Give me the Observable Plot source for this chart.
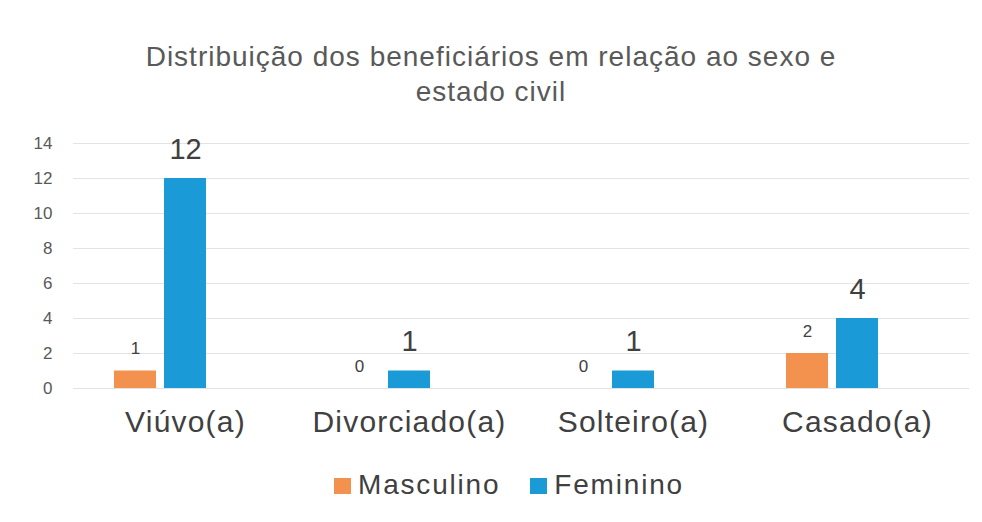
<!DOCTYPE html>
<html>
<head>
<meta charset="utf-8">
<script src="https://cdn.jsdelivr.net/npm/d3@7"></script>
<script src="https://cdn.jsdelivr.net/npm/@observablehq/plot@0.6"></script>
<style>
  html, body { margin: 0; padding: 0; background: #fff; }
  body { width: 982px; height: 522px; overflow: hidden; font-family: "Liberation Sans", Arial, sans-serif; }
  #title { text-align: center; color: #595959; font-size: 28px; letter-spacing: 1px; line-height: 35px; padding-top: 39px; height: 73px; box-sizing: content-box; }
  #legend { display: flex; justify-content: center; align-items: center; gap: 30px; color: #404040; font-size: 28px; letter-spacing: 1.8px; margin-top: 26px; padding-left: 36px; }
  .sw { display: inline-block; width: 17px; height: 16px; margin-right: 7px; vertical-align: middle; position: relative; top: -1px; }
  svg [aria-label="fx-axis tick label"] text { letter-spacing: 1.2px; }
</style>
</head>
<body>
<div id="title">Distribuição dos beneficiários em relação ao sexo e<br>estado civil</div>
<div id="chart"></div>
<div id="legend"></div>
<script>
const categories = ["Viúvo(a)", "Divorciado(a)", "Solteiro(a)", "Casado(a)"];
const seriesNames = ["Masculino", "Feminino"];
const masculino = [1, 0, 0, 2];
const feminino = [12, 1, 1, 4];
const yTicks = [0, 2, 4, 6, 8, 10, 12, 14];
const colors = ["#F3924F", "#1A9AD6"];

const data = [];
categories.forEach((c, i) => {
  data.push({cat: c, series: "Masculino", value: masculino[i]});
  data.push({cat: c, series: "Feminino", value: feminino[i]});
});
const masc = data.filter(d => d.series === "Masculino");
const fem = data.filter(d => d.series === "Feminino");

const chart = Plot.plot({
  width: 982,
  height: 331,
  marginTop: 31,
  marginBottom: 55,
  marginLeft: 72,
  marginRight: 12,
  style: {fontFamily: "Liberation Sans, Arial, sans-serif", background: "#fff"},
  fx: {domain: categories, padding: 0, label: null},
  x: {domain: ["Masculino", "Feminino", "_"], paddingInner: 0.17, paddingOuter: 0.79, axis: null},
  y: {domain: [0, 14], label: null},
  color: {domain: seriesNames, range: colors},
  marks: [
    Plot.gridY(yTicks, {stroke: "#e3e3e3", strokeOpacity: 1, strokeWidth: 1}),
    Plot.axisY(yTicks, {tickSize: 0, tickPadding: 21, fontSize: 17, fill: "#595959", label: null}),
    Plot.axisFx({anchor: "bottom", tickSize: 0, tickPadding: 22, fontSize: 30, fill: "#404040", label: null}),
    Plot.barY(data, {fx: "cat", x: "series", y: "value", fill: "series"}),
    Plot.text(masc, {fx: "cat", x: "series", y: "value", text: d => String(d.value), dy: -22, fontSize: 17, fill: "#404040"}),
    Plot.text(fem, {fx: "cat", x: "series", y: "value", text: d => String(d.value), dy: -29, fontSize: 29, fill: "#404040"})
  ]
});
document.getElementById("chart").appendChild(chart);

const legend = document.getElementById("legend");
seriesNames.forEach((s, i) => {
  const item = document.createElement("span");
  item.innerHTML = `<span class="sw" style="background:${colors[i]}"></span>${s}`;
  legend.appendChild(item);
});
</script>
</body>
</html>
